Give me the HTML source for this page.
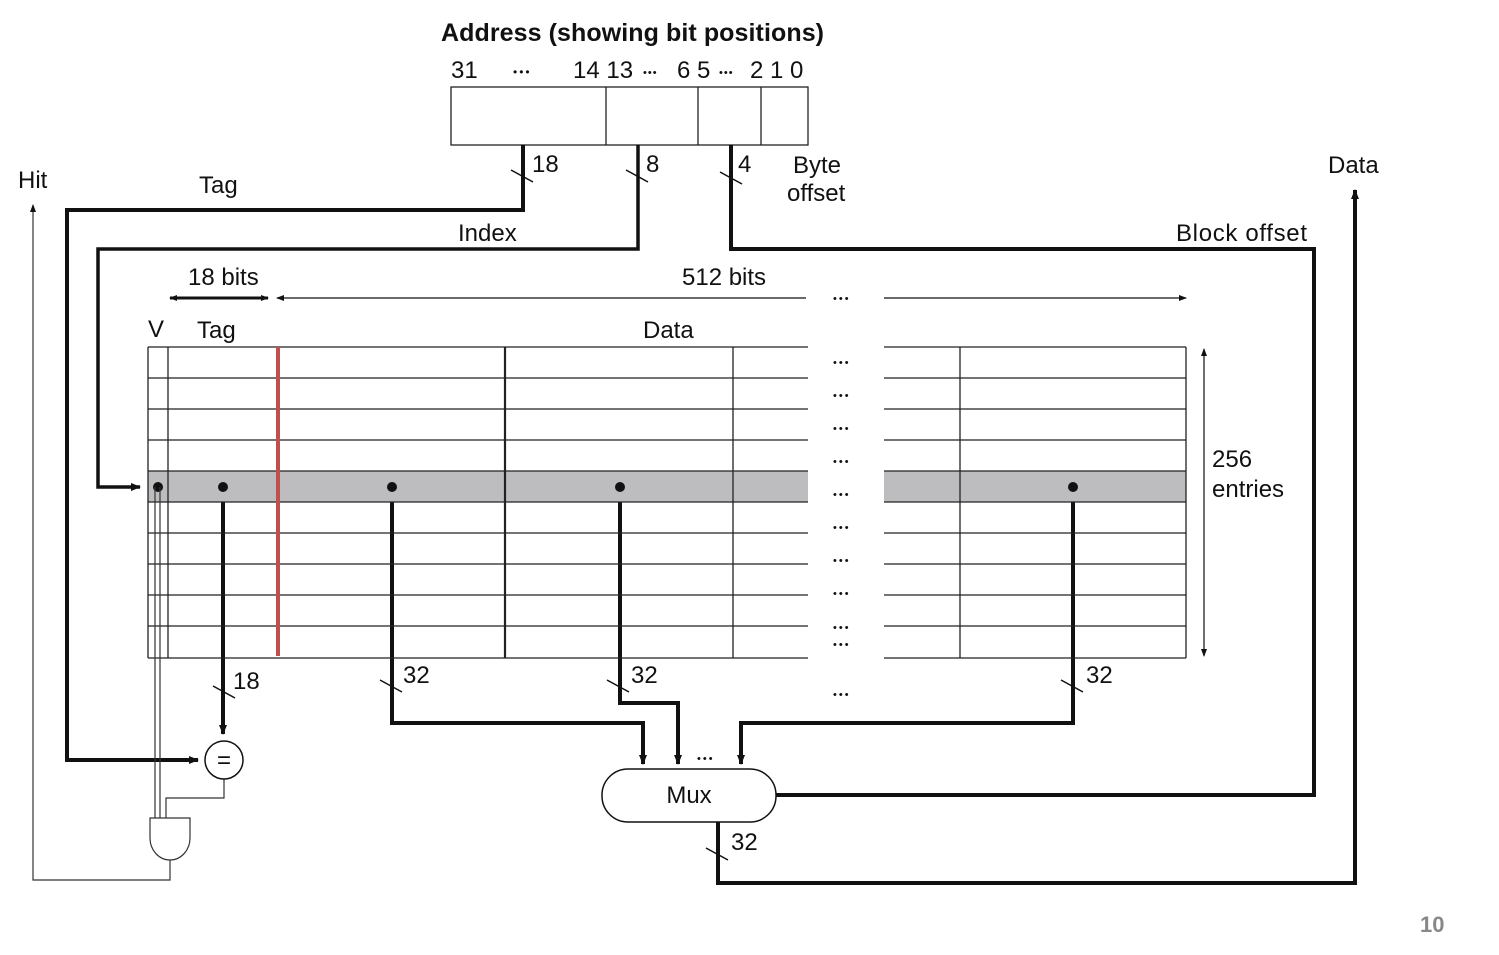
<!DOCTYPE html>
<html><head><style>
body{margin:0;background:#fff;}
svg text{font-family:"Liberation Sans",sans-serif;fill:#111;}
</style></head><body>
<svg width="1499" height="950" viewBox="0 0 1499 950" xmlns="http://www.w3.org/2000/svg">
<defs>
<marker id="a" markerWidth="10" markerHeight="8" refX="9" refY="4" orient="auto" markerUnits="userSpaceOnUse"><path d="M0,0 L10,4 L0,8 Z" fill="#111"/></marker>
<marker id="s" markerWidth="8" markerHeight="6" refX="7" refY="3" orient="auto-start-reverse" markerUnits="userSpaceOnUse"><path d="M0,0 L8,3 L0,6 Z" fill="#111"/></marker>
</defs>
<text x="441" y="41" font-size="25" font-weight="bold" textLength="383">Address (showing bit positions)</text>
<text x="451" y="78" font-size="24">31</text>
<text x="513" y="76" font-size="12" letter-spacing="2">•••</text>
<text x="573" y="78" font-size="24">14 13</text>
<text x="643" y="76" font-size="11" letter-spacing="1">•••</text>
<text x="677" y="78" font-size="24">6 5</text>
<text x="719" y="76" font-size="11" letter-spacing="1">•••</text>
<text x="750" y="78" font-size="24">2 1 0</text>
<rect x="451" y="87" width="357" height="58" fill="none" stroke="#222" stroke-width="1.3"/>
<line x1="606" y1="87" x2="606" y2="145" stroke="#222" stroke-width="1.3"/>
<line x1="698" y1="87" x2="698" y2="145" stroke="#222" stroke-width="1.3"/>
<line x1="761" y1="87" x2="761" y2="145" stroke="#222" stroke-width="1.3"/>
<g fill="none" stroke="#111" stroke-width="4">
<polyline points="523,145 523,210 67,210 67,760 198,760" marker-end="url(#a)"/>
<polyline points="638,145 638,249 98,249 98,487 140,487" stroke-width="3.5" marker-end="url(#a)"/>
<polyline points="731,145 731,249 1314,249 1314,795 776,795"/>
<polyline points="718,822 718,883 1355,883 1355,190" marker-end="url(#a)"/>
<polyline points="223,487 223,734" marker-end="url(#a)"/>
<polyline points="392,487 392,723 643,723 643,764" marker-end="url(#a)"/>
<polyline points="620,487 620,703 678,703 678,764" marker-end="url(#a)"/>
<polyline points="1073,487 1073,723 741,723 741,764" marker-end="url(#a)"/>
</g>
<g stroke="#111" stroke-width="1.5">
<line x1="511" y1="170" x2="533" y2="182"/><line x1="626" y1="170" x2="648" y2="182"/><line x1="720" y1="172" x2="742" y2="184"/>
<line x1="213" y1="686" x2="235" y2="698"/><line x1="380" y1="680" x2="402" y2="692"/><line x1="607" y1="680" x2="629" y2="692"/><line x1="1061" y1="680" x2="1083" y2="692"/><line x1="706" y1="848" x2="728" y2="860"/>
</g>
<text x="532" y="172" font-size="24">18</text>
<text x="646" y="172" font-size="24">8</text>
<text x="738" y="172" font-size="24">4</text>
<text x="793" y="173" font-size="24">Byte</text>
<text x="787" y="201" font-size="24">offset</text>
<text x="18" y="188" font-size="24">Hit</text>
<text x="199" y="193" font-size="24">Tag</text>
<text x="458" y="241" font-size="24">Index</text>
<text x="1176" y="241" font-size="24" textLength="131">Block offset</text>
<text x="1328" y="173" font-size="24">Data</text>
<text x="188" y="285" font-size="24">18 bits</text>
<text x="682" y="285" font-size="24">512 bits</text>
<text x="148" y="337" font-size="24">V</text>
<text x="197" y="338" font-size="24">Tag</text>
<text x="643" y="338" font-size="24">Data</text>
<text x="1212" y="467" font-size="24">256</text>
<text x="1212" y="497" font-size="24">entries</text>
<line x1="170" y1="298" x2="268" y2="298" stroke="#111" stroke-width="3" marker-start="url(#s)" marker-end="url(#s)"/>
<line x1="277" y1="298" x2="806" y2="298" stroke="#111" stroke-width="1.2" marker-start="url(#s)"/>
<line x1="884" y1="298" x2="1186" y2="298" stroke="#111" stroke-width="1.2" marker-end="url(#s)"/>
<line x1="1204" y1="349" x2="1204" y2="656" stroke="#111" stroke-width="1.2" marker-start="url(#s)" marker-end="url(#s)"/>
<rect x="148" y="471" width="660" height="31" fill="#bdbdc0"/>
<rect x="884" y="471" width="302" height="31" fill="#bdbdc0"/>
<g stroke="#222" stroke-width="1.3" fill="none">
<path d="M148,347 H808 M148,378 H808 M148,409 H808 M148,440 H808 M148,471 H808 M148,502 H808 M148,533 H808 M148,564 H808 M148,595 H808 M148,626 H808 M148,658 H808"/>
<path d="M884,347 H1186 M884,378 H1186 M884,409 H1186 M884,440 H1186 M884,471 H1186 M884,502 H1186 M884,533 H1186 M884,564 H1186 M884,595 H1186 M884,626 H1186 M884,658 H1186"/>
<path d="M148,347 V658 M168,347 V658 M733,347 V658 M960,347 V658 M1186,347 V658"/>
<path d="M505,347 V658" stroke-width="2.2"/>
</g>
<line x1="278" y1="347" x2="278" y2="656" stroke="#c0504d" stroke-width="4"/>
<g font-size="11" fill="#111" letter-spacing="2">
<text x="833" y="366">•••</text><text x="833" y="399">•••</text><text x="833" y="432">•••</text><text x="833" y="465">•••</text><text x="833" y="498">•••</text><text x="833" y="531">•••</text><text x="833" y="564">•••</text><text x="833" y="597">•••</text><text x="833" y="631">•••</text><text x="833" y="648">•••</text><text x="833" y="302">•••</text><text x="833" y="698">•••</text><text x="697" y="762">•••</text>
</g>
<g fill="#111"><circle cx="158" cy="487" r="5"/><circle cx="223" cy="487" r="5"/><circle cx="392" cy="487" r="5"/><circle cx="620" cy="487" r="5"/><circle cx="1073" cy="487" r="5"/></g>
<g stroke="#333" stroke-width="1.2" fill="none">
<polyline points="155,487 155,818"/><polyline points="160,487 160,818"/>
<polyline points="224,779 224,798 166,798 166,818"/>
<path d="M150,818 H190 V838 A20,22 0 0 1 150,838 Z" fill="#fff"/>
<polyline points="170,860 170,880 33,880 33,205" marker-end="url(#s)"/>
</g>
<circle cx="224" cy="760" r="19" fill="#fff" stroke="#111" stroke-width="1.5"/>
<text x="224" y="768" font-size="24" text-anchor="middle">=</text>
<text x="233" y="689" font-size="24">18</text>
<text x="403" y="683" font-size="24">32</text>
<text x="631" y="683" font-size="24">32</text>
<text x="1086" y="683" font-size="24">32</text>
<text x="731" y="850" font-size="24">32</text>
<rect x="602" y="769" width="174" height="53" rx="26" fill="#fff" stroke="#111" stroke-width="1.5"/>
<text x="689" y="803" font-size="24" text-anchor="middle">Mux</text>
<text x="1420" y="932" font-size="22" font-weight="bold" style="fill:#888">10</text>
</svg>
</body></html>
